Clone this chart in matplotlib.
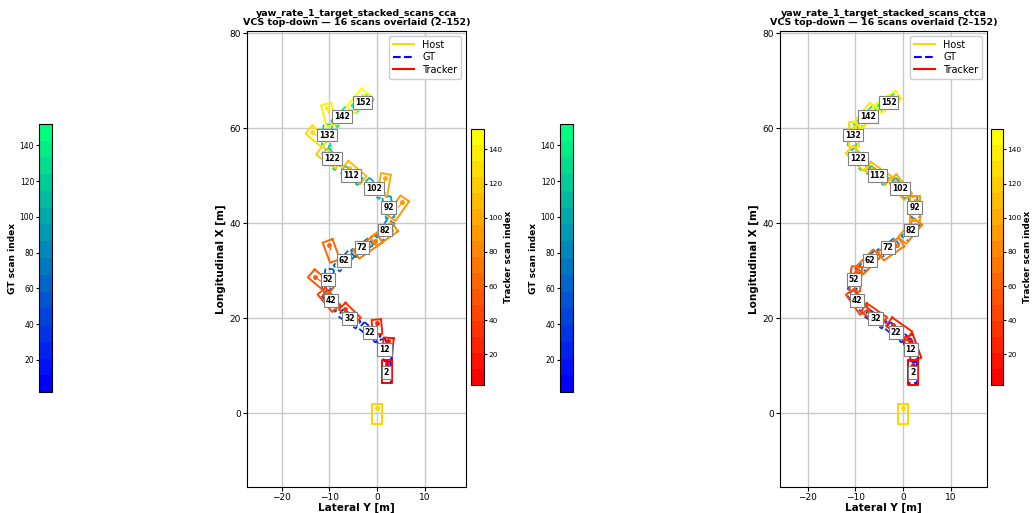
import matplotlib
matplotlib.use("Agg")
import matplotlib.pyplot as plt
import numpy as np
from matplotlib.colors import Normalize
from matplotlib.cm import ScalarMappable
from matplotlib.lines import Line2D

# scans shown
scans = [2, 12, 22, 32, 42, 52, 62, 72, 82, 92, 102, 112, 122, 132, 142, 152]

# ground truth boxes (lateral Y, longitudinal X, heading deg)
gt_lat = [2.0, 1.6, -1.5, -5.8, -9.6, -10.3, -6.9, -3.1, 1.7, 2.4, -0.6, -5.4, -9.5, -10.5, -7.4, -3.0]
gt_lon = [8.6, 13.4, 17.1, 19.9, 23.7, 28.2, 32.1, 34.9, 38.6, 43.4, 47.4, 50.1, 53.6, 58.6, 62.5, 65.4]
gt_head = [0, -20, -50, -55, -40, 10, 45, 55, 35, -10, -45, -55, -35, 5, 45, 55]
gt_len = 4.5
gt_wid = 1.8

# tracker output, cca variant
cca_lat = [2.1, 2.3, 0.0, -5.7, -10.1, -11.7, -9.6, -1.9, 1.5, 4.4, 1.5, -4.8, -10.1, -12.6, -10.1, -4.0]
cca_lon = [8.8, 14.0, 18.2, 21.0, 23.9, 27.7, 34.2, 35.2, 37.7, 43.2, 48.2, 50.7, 53.9, 58.3, 62.9, 65.8]
cca_head = [0, 5, -5, -45, -40, -50, -20, 55, 55, 35, 10, -50, -55, -50, -15, 40]
cca_len = [5.0, 3.8, 3.1, 4.5, 4.8, 5.5, 4.5, 6.0, 5.5, 5.0, 4.5, 5.0, 5.0, 4.5, 4.6, 5.0]
cca_wid = [2.1, 2.1, 2.0, 2.0, 2.2, 2.2, 2.2, 2.2, 2.3, 2.2, 2.1, 2.2, 2.2, 2.2, 2.2, 2.2]

# tracker output, ctca variant
ctca_lat = [2.1, 1.9, -0.8, -6.1, -9.6, -9.9, -7.3, -2.5, 1.5, 2.5, -0.6, -5.2, -9.4, -10.3, -7.8, -3.1]
ctca_lon = [8.6, 13.8, 17.8, 20.8, 23.5, 28.3, 31.9, 34.6, 38.4, 43.2, 47.6, 50.5, 53.7, 58.7, 62.7, 65.6]
ctca_head = [0, -20, -55, -55, -35, 5, 45, 55, 40, 0, -40, -55, -45, 0, 40, 55]
ctca_len = [5.2] * 16
ctca_wid = [2.2] * 16

# host vehicle
host_lat, host_lon, host_len, host_wid = 0.0, -0.2, 4.2, 2.0

W, H = 1033, 513
fig = plt.figure(figsize=(W / 100, H / 100), dpi=100)


def px_axes(x0, y0, x1, y1):
    return fig.add_axes([x0 / W, 1 - y1 / H, (x1 - x0) / W, (y1 - y0) / H])


def corners(lat, lon, head, L, Wd):
    psi = np.radians(head)
    f = np.array([np.sin(psi), np.cos(psi)])
    s = np.array([np.cos(psi), -np.sin(psi)])
    c = np.array([lat, lon])
    pts = [c + f * L / 2 + s * Wd / 2, c + f * L / 2 - s * Wd / 2,
           c - f * L / 2 - s * Wd / 2, c - f * L / 2 + s * Wd / 2]
    pts.append(pts[0])
    return np.array(pts)


def draw_box(ax, lat, lon, head, L, Wd, color, ls="-", lw=1.4, arrow=True):
    p = corners(lat, lon, head, L, Wd)
    ax.plot(p[:, 0], p[:, 1], color=color, ls=ls, lw=lw)
    if arrow:
        psi = np.radians(head)
        f = np.array([np.sin(psi), np.cos(psi)])
        a = np.array([lat, lon]) + f * L * 0.05
        b = np.array([lat, lon]) + f * L * 0.3
        ax.plot([a[0], b[0]], [a[1], b[1]], color=color, lw=0.8)
        ax.plot(b[0], b[1], "o", color=color, ms=2.5)


norm = Normalize(2, 152)
gt_cmap = plt.get_cmap("winter", 16)
tr_cmap = plt.get_cmap("autumn", 16)


def panel(ax_px, cb_gt_px, cb_tr_px, name, xlim, tlat, tlon, thead, tlen, twid):
    ax = px_axes(*ax_px)
    ax.grid(True, color="#c8c8c8", lw=1.0)
    ax.set_axisbelow(True)
    for i, sc in enumerate(scans):
        draw_box(ax, gt_lat[i], gt_lon[i], gt_head[i], gt_len, gt_wid,
                 gt_cmap(norm(sc)), ls=(0, (3, 2)), lw=1.3, arrow=False)
    for i, sc in enumerate(scans):
        draw_box(ax, tlat[i], tlon[i], thead[i], tlen[i], twid[i], tr_cmap(norm(sc)))
    draw_box(ax, host_lat, host_lon, 0, host_len, host_wid, "gold", lw=1.5)
    for i, sc in enumerate(scans):
        ax.text(gt_lat[i], gt_lon[i], str(sc), fontsize=5.5, fontweight="bold",
                ha="center", va="center", zorder=5,
                bbox=dict(boxstyle="square,pad=0.25", fc="white", ec="gray", lw=0.8))
    ax.set_xlim(*xlim)
    ax.set_ylim(-15.5, 80.5)
    ax.set_aspect("equal", adjustable="datalim")
    ax.set_xticks([-20, -10, 0, 10])
    ax.set_yticks([0, 20, 40, 60, 80])
    ax.tick_params(labelsize=6.5, length=3, pad=1.5)
    ax.set_xlabel("Lateral Y [m]", fontsize=7.5, fontweight="bold", labelpad=0)
    ax.set_ylabel("Longitudinal X [m]", fontsize=7.5, fontweight="bold", labelpad=2)
    ax.set_title(name + "\nVCS top-down \u2014 16 scans overlaid (2\u2013152)",
                 fontsize=6.8, fontweight="bold", pad=4, linespacing=1.05)
    handles = [Line2D([], [], color="gold", lw=1.5),
               Line2D([], [], color="blue", lw=1.5, ls="--"),
               Line2D([], [], color="red", lw=1.5)]
    ax.legend(handles, ["Host", "GT", "Tracker"], loc="upper right", fontsize=7,
              handlelength=2.2, borderpad=0.4, labelspacing=0.25, framealpha=1)

    cax = px_axes(*cb_gt_px)
    cb = fig.colorbar(ScalarMappable(norm=norm, cmap=gt_cmap), cax=cax)
    cax.yaxis.set_ticks_position("left")
    cax.yaxis.set_label_position("left")
    cb.set_label("GT scan index", fontsize=6.5, fontweight="bold", labelpad=2)
    cax.tick_params(labelsize=5.5, length=2, pad=1.5)

    cax2 = px_axes(*cb_tr_px)
    cb2 = fig.colorbar(ScalarMappable(norm=norm, cmap=tr_cmap), cax=cax2)
    cb2.set_label("Tracker scan index", fontsize=6.3, fontweight="bold", labelpad=1)
    cax2.tick_params(labelsize=5.3, length=2, pad=1.2)


panel((247, 31, 466, 487), (39, 124, 52, 392), (471, 129, 484, 385),
      "yaw_rate_1_target_stacked_scans_cca", (-27.3, 18.7),
      cca_lat, cca_lon, cca_head, cca_len, cca_wid)
panel((780, 31, 987, 487), (560, 124, 573, 392), (991, 129, 1003, 385),
      "yaw_rate_1_target_stacked_scans_ctca", (-25.8, 17.6),
      ctca_lat, ctca_lon, ctca_head, ctca_len, ctca_wid)

fig.savefig("out.png", dpi=100)
